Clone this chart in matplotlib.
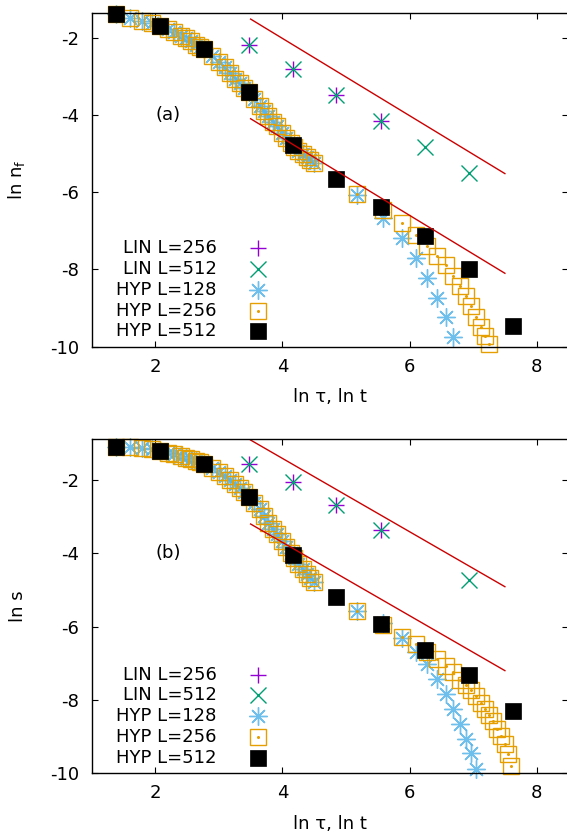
import matplotlib
matplotlib.use("Agg")
import matplotlib.pyplot as plt

plt.rcParams['font.family'] = ['DejaVu Sans']
plt.rcParams['font.size'] = 13
plt.rcParams['axes.unicode_minus'] = False
plt.rcParams['mathtext.fontset'] = 'dejavusans'
plt.rcParams['xtick.direction'] = 'in'
plt.rcParams['ytick.direction'] = 'in'
plt.rcParams['xtick.top'] = True
plt.rcParams['ytick.right'] = True
plt.rcParams['xtick.major.size'] = 4
plt.rcParams['ytick.major.size'] = 4
plt.rcParams['xtick.major.pad'] = 8
plt.rcParams['ytick.major.pad'] = 9

# ---- data (ln tau / ln t on x) ----
# LIN, one point per doubling
lin_x = [3.47, 4.16, 4.85, 5.55, 6.24, 6.93]
lin256_a = [-2.19, -2.81, -3.49, -4.15]
lin512_a = [-2.19, -2.81, -3.49, -4.15, -4.83, -5.51]
lin256_b = [-1.55, -2.05, -2.68, -3.36]
lin512_b_x = [3.47, 4.16, 4.85, 5.55, 6.93]
lin512_b = [-1.55, -2.05, -2.68, -3.36, -4.72]

# HYP L=512 (filled squares)
hyp512_x = [1.39, 2.08, 2.77, 3.47, 4.16, 4.85, 5.55, 6.24, 6.93, 7.62]
hyp512_a = [-1.40, -1.69, -2.30, -3.42, -4.79, -5.66, -6.39, -7.14, -8.00, -9.46]
hyp512_b = [-1.09, -1.20, -1.55, -2.45, -4.04, -5.18, -5.92, -6.64, -7.32, -8.31]

# HYP L=128 / L=256, dense early part (curves coincide)
dense_x = [1.39, 1.61, 1.79, 1.95, 2.08, 2.20, 2.30, 2.40, 2.48, 2.56, 2.64, 2.71,
           2.77, 2.89, 3.00, 3.09, 3.18, 3.26, 3.33, 3.40, 3.47, 3.56, 3.64, 3.71,
           3.78, 3.85, 3.91, 3.99, 4.06, 4.13, 4.19, 4.25, 4.32, 4.38, 4.44, 4.50]
dense_a = [-1.40, -1.48, -1.56, -1.63, -1.69, -1.78, -1.86, -1.95, -2.02, -2.10, -2.18, -2.25,
           -2.30, -2.47, -2.63, -2.77, -2.92, -3.06, -3.18, -3.30, -3.42, -3.60, -3.76, -3.90,
           -4.04, -4.18, -4.30, -4.46, -4.60, -4.73, -4.83, -4.93, -5.02, -5.10, -5.17, -5.24]
dense_b = [-1.09, -1.11, -1.13, -1.16, -1.20, -1.25, -1.29, -1.34, -1.39, -1.43, -1.48, -1.52,
           -1.55, -1.66, -1.78, -1.88, -1.99, -2.10, -2.21, -2.33, -2.45, -2.62, -2.79, -2.97,
           -3.16, -3.33, -3.47, -3.66, -3.83, -3.99, -4.14, -4.29, -4.44, -4.57, -4.68, -4.78]

# HYP tails
hyp128_tail_x_a = [5.18, 5.59, 5.88, 6.10, 6.28, 6.43, 6.57, 6.69]
hyp128_tail_a = [-6.08, -6.68, -7.18, -7.70, -8.23, -8.75, -9.24, -9.76]
hyp256_tail_x_a = [5.18, 5.59, 5.88, 6.10, 6.28, 6.43, 6.57, 6.69, 6.80, 6.89, 6.97,
                   7.05, 7.13, 7.19, 7.25]
hyp256_tail_a = [-6.05, -6.46, -6.81, -7.10, -7.39, -7.64, -7.89, -8.16, -8.43, -8.69, -8.95,
                 -9.22, -9.49, -9.72, -9.94]

hyp128_tail_x_b = [5.18, 5.59, 5.88, 6.10, 6.28, 6.43, 6.57, 6.69, 6.80, 6.89, 6.97, 7.05]
hyp128_tail_b = [-5.56, -5.90, -6.30, -6.68, -7.02, -7.42, -7.83, -8.24, -8.66, -9.06, -9.45, -9.87]
hyp256_tail_x_b = [5.18, 5.59, 5.88, 6.10, 6.28, 6.43, 6.57, 6.69, 6.80, 6.89, 6.97, 7.05,
                   7.13, 7.19, 7.25, 7.31, 7.38, 7.44, 7.50, 7.55, 7.60]
hyp256_tail_b = [-5.56, -5.95, -6.28, -6.47, -6.68, -6.88, -7.07, -7.24, -7.45, -7.58, -7.72,
                 -7.88, -8.08, -8.25, -8.40, -8.57, -8.78, -8.98, -9.20, -9.48, -9.80]

# guide lines of slope -1 between guide_x, given by intercept
guide_x = [3.5, 7.5]
guides_a = [1.98, -0.60]
guides_b = [2.59, 0.30]

labels = ["LIN L=256", "LIN L=512", "HYP L=128", "HYP L=256", "HYP L=512"]

PURPLE = "#9400d3"
GREEN = "#009e73"
BLUE = "#56b4e9"
ORANGE = "#e69f00"
RED = "#cc0000"

styles = [
    dict(marker="+", color=PURPLE, ms=12, mew=1.0, ls="none"),
    dict(marker="x", color=GREEN, ms=12, mew=1.0, ls="none"),
    dict(marker=(8, 2, 0), color=BLUE, ms=13, mew=1.0, ls="none", alpha=0.85),
    dict(marker="s", mfc="none", mec=ORANGE, ms=11.5, mew=1.0, ls="none"),
    dict(marker="s", color="black", ms=11.5, mew=0.5, ls="none"),
]

fig = plt.figure(figsize=(5.67, 8.35), dpi=100)
ax_a = fig.add_axes([0.1617, 0.5848, 0.8409, 0.3993])
ax_b = fig.add_axes([0.1617, 0.0739, 0.8409, 0.4004])


def draw_panel(ax, lin256, lin512_x, lin512, dense, t128x, t128, t256x, t256, h512,
               guides, ylim, tag, ylabel):
    ax.plot(lin_x[:len(lin256)], lin256, clip_on=False, **styles[0])
    ax.plot(lin512_x, lin512, clip_on=False, **styles[1])
    ax.plot(dense_x + t128x, dense + t128, clip_on=False, **styles[2])
    ax.plot(dense_x + t256x, dense + t256, clip_on=False, **styles[3])
    ax.plot(t256x, t256, marker="o", ls="none", ms=1.2, color=ORANGE, clip_on=False)
    ax.plot(hyp512_x, h512, clip_on=False, **styles[4])
    for c in guides:
        ax.plot(guide_x, [c - guide_x[0], c - guide_x[1]], color=RED, lw=1.0)

    ax.set_xlim(1, 8.5)
    ax.set_ylim(*ylim)
    ax.set_xticks([2, 4, 6, 8])
    ax.set_yticks([-10, -8, -6, -4, -2])
    for s in ax.spines.values():
        s.set_linewidth(1.0)
    ax.set_xlabel("ln \u03c4, ln t", labelpad=9)
    ax.set_ylabel(ylabel)
    ax.yaxis.set_label_coords(-0.135, 0.5)
    ax.text(2.2, -4.0, tag, ha="center", va="center")

    # gnuplot-style key: right-justified text, sample to the right
    for i, (lab, st) in enumerate(zip(labels, styles)):
        yk = 0.295 - i * 0.0622
        ax.text(0.262, yk, lab, transform=ax.transAxes, ha="right", va="center")
        ax.plot([0.349], [yk], transform=ax.transAxes, clip_on=False, **st)
        if i == 3:
            ax.plot([0.349], [yk], transform=ax.transAxes, marker="o", ms=1.2,
                    color=ORANGE, clip_on=False)


draw_panel(ax_a, lin256_a, lin_x, lin512_a, dense_a, hyp128_tail_x_a, hyp128_tail_a,
           hyp256_tail_x_a, hyp256_tail_a, hyp512_a, guides_a, (-10, -1.37), "(a)",
           r"ln n$_{\mathregular{f}}$")
draw_panel(ax_b, lin256_b, lin512_b_x, lin512_b, dense_b, hyp128_tail_x_b, hyp128_tail_b,
           hyp256_tail_x_b, hyp256_tail_b, hyp512_b, guides_b, (-10, -0.88), "(b)",
           "ln s")

fig.savefig("out.png", dpi=100)
